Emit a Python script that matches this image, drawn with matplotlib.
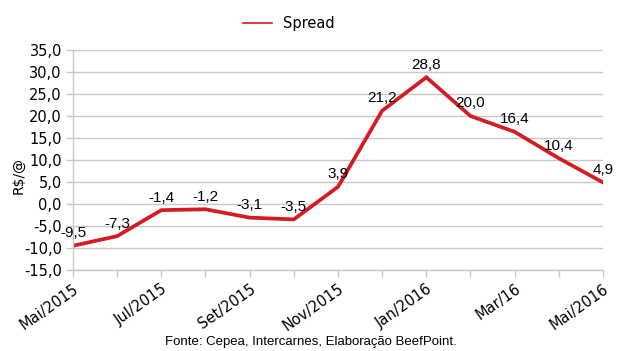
import matplotlib.pyplot as plt
from matplotlib.lines import Line2D
from matplotlib.ticker import FuncFormatter

months = ["Mai/2015", "Jun/2015", "Jul/2015", "Ago/2015", "Set/2015", "Out/2015",
          "Nov/2015", "Dez/2015", "Jan/2016", "Fev/2016", "Mar/16", "Abr/2016", "Mai/2016"]
spread = [-9.5, -7.3, -1.4, -1.2, -3.1, -3.5, 3.9, 21.2, 28.8, 20.0, 16.4, 10.4, 4.9]
yticks = [-15, -10, -5, 0, 5, 10, 15, 20, 25, 30, 35]

red = "#d41c24"
grey = "#c8c8c8"

fig = plt.figure(figsize=(6.27, 3.51), dpi=100)
ax = fig.add_axes([0.1164, 0.2308, 0.8453, 0.6267])

x = list(range(len(months)))
ax.plot(x, spread, color=red, linewidth=2.7, solid_joinstyle="miter")

for xi, v in zip(x, spread):
    ax.annotate(f"{v:.1f}".replace(".", ","), (xi, v), xytext=(0, 4),
                textcoords="offset points", ha="center", va="bottom",
                fontsize=11, family="Liberation Sans")

ax.set_xlim(0, len(months) - 1)
ax.set_ylim(-15, 35)
ax.set_yticks(yticks)
ax.yaxis.set_major_formatter(FuncFormatter(lambda v, p: f"{v:.1f}".replace(".", ",")))
ax.set_xticks(x)
ax.set_xticklabels([m if i % 2 == 0 else "" for i, m in enumerate(months)],
                   rotation=35, ha="right", rotation_mode="anchor")
ax.tick_params(axis="both", labelsize=10.5, color=grey, length=5, width=1)
ax.tick_params(axis="x", pad=3)
ax.tick_params(axis="y", pad=3)

ax.grid(axis="y", color=grey, linewidth=1)
ax.set_axisbelow(True)
for s in ["top", "right"]:
    ax.spines[s].set_visible(False)
for s in ["left", "bottom"]:
    ax.spines[s].set_color(grey)
    ax.spines[s].set_linewidth(1)

ax.set_ylabel("R$/@", fontsize=10)
ax.yaxis.set_label_coords(-0.09, 0.43)

handle = Line2D([], [], color=red, linewidth=1.2)
fig.legend([handle], ["Spread"], loc="center", bbox_to_anchor=(0.461, 0.934), frameon=False,
           prop={"size": 10.5}, handlelength=2.0, handletextpad=0.75)

fig.text(0.496, 0.026, "Fonte: Cepea, Intercarnes, Elaboração BeefPoint.",
         ha="center", va="center", fontsize=9.5, family="Liberation Sans")

fig.savefig("out.png", dpi=100)
